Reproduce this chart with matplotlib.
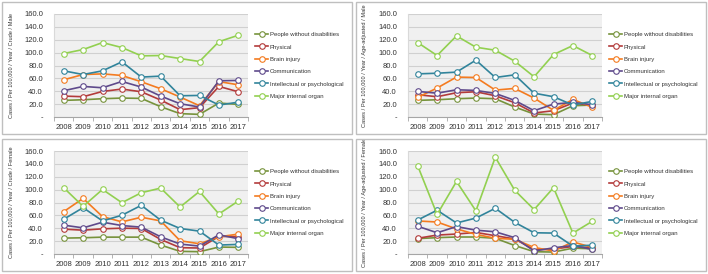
import numpy as np
import matplotlib
matplotlib.use("Agg")
import matplotlib.pyplot as plt
from matplotlib.patches import Rectangle

plt.rcParams['font.family'] = ['Liberation Sans', 'DejaVu Sans']

years = [2008, 2009, 2010, 2011, 2012, 2013, 2014, 2015, 2016, 2017]
series_names = ["People without disabilities", "Physical", "Brain injury",
                "Communication", "Intellectual or psychological", "Major internal organ"]
colors = ["#77933C", "#B33B3B", "#F47B20", "#5F4A8B", "#31849B", "#92D050"]

titles = ["Cases / Per 100,000 / Year / Crude / Male",
          "Cases / Per 100,000 / Year / Age-adjusted / Male",
          "Cases / Per 100,000 / Year / Crude / Female",
          "Cases / Per 100,000 / Year / Age-adjusted / Female"]

# crude, male
crude_male = [
    [25.8, 26.8, 28.4, 29.4, 28.9, 16.0, 5.2, 4.1, 21.7, 19.6],
    [32.5, 31.5, 39.7, 43.4, 39.2, 26.3, 11.4, 14.5, 47.5, 39.2],
    [57.8, 66.0, 67.0, 64.5, 54.7, 43.9, 31.0, 17.5, 55.0, 50.0],
    [40.8, 47.5, 45.4, 55.2, 46.5, 32.5, 20.6, 15.5, 56.3, 56.8],
    [71.7, 66.0, 71.7, 85.7, 62.0, 63.5, 33.0, 33.5, 18.6, 23.0],
    [98.6, 104.8, 115.6, 107.9, 95.0, 95.5, 90.8, 86.2, 117.0, 127.0],
]
# age-adjusted, male
adj_male = [
    [25.8, 26.8, 28.4, 29.4, 28.4, 15.5, 4.6, 3.6, 17.5, 18.6],
    [34.6, 31.5, 37.7, 39.2, 33.0, 22.2, 6.2, 9.8, 21.7, 18.1],
    [30.5, 45.0, 62.0, 61.4, 41.8, 44.4, 29.4, 10.3, 27.4, 15.0],
    [39.7, 37.0, 42.3, 41.3, 36.6, 25.8, 9.8, 20.0, 22.7, 19.1],
    [67.0, 68.0, 69.7, 88.3, 61.4, 65.5, 37.0, 31.5, 18.6, 24.3],
    [115.6, 95.5, 126.0, 108.4, 103.7, 86.7, 62.5, 97.0, 111.0, 95.5],
]
# crude, female
crude_female = [
    [24.7, 25.2, 26.2, 26.2, 26.2, 13.9, 4.1, 3.6, 10.8, 10.3],
    [38.6, 37.0, 39.1, 40.1, 39.6, 22.6, 9.8, 9.3, 27.3, 27.0],
    [65.8, 86.4, 58.1, 49.9, 57.1, 51.4, 20.6, 15.9, 26.7, 30.9],
    [44.8, 40.6, 49.4, 44.2, 41.7, 26.7, 15.4, 12.3, 29.8, 23.7],
    [54.0, 72.0, 51.4, 60.2, 75.6, 52.5, 39.6, 35.5, 13.9, 14.9],
    [102.9, 74.0, 100.3, 79.7, 95.2, 102.4, 73.0, 97.2, 62.2, 82.3],
]
# age-adjusted, female
adj_female = [
    [23.9, 25.4, 26.4, 26.4, 24.4, 13.2, 3.6, 3.0, 9.1, 8.1],
    [24.4, 29.4, 31.0, 33.5, 28.4, 23.4, 6.6, 7.6, 11.7, 9.6],
    [51.3, 49.7, 39.0, 30.5, 24.4, 22.8, 10.2, 4.6, 18.8, 10.2],
    [43.1, 33.0, 42.6, 37.0, 34.5, 25.4, 4.6, 9.6, 13.2, 7.1],
    [52.8, 68.0, 48.2, 55.8, 71.0, 49.2, 33.0, 32.5, 12.2, 13.7],
    [137.0, 61.4, 112.7, 67.0, 150.3, 99.0, 69.0, 103.0, 32.5, 50.8],
]

panels = [crude_male, adj_male, crude_female, adj_female]

W, H = 708, 274
fig = plt.figure(figsize=(W / 100, H / 100), dpi=100)

x = np.arange(len(years))
for i, data in enumerate(panels):
    c, r = i % 2, i // 2
    # panel frame
    fig.patches.append(Rectangle(((2 + 354 * c) / W, 1 - (134 + 137 * r) / H),
                                 350 / W, 132 / H, transform=fig.transFigure,
                                 fill=False, edgecolor="#BFBFBF", linewidth=1.0))
    left, right = 54 + 354 * c, 248 + 354 * c
    top, bottom = 14 + 137 * r, 117 + 137 * r
    ax = fig.add_axes([left / W, 1 - bottom / H, (right - left) / W, (bottom - top) / H])
    ax.set_facecolor("#F0F0F0")
    for k, vals in enumerate(data):
        ax.plot(x, vals, color=colors[k], lw=1.2, marker="o", ms=4,
                mfc="white", mec=colors[k], mew=0.8, label=series_names[k], zorder=3)
    ax.set_xlim(-0.5, len(years) - 0.5)
    ax.set_ylim(0, 160)
    ax.set_yticks(np.arange(0, 161, 20))
    ax.set_yticklabels(["-"] + ["%.1f" % v for v in range(20, 161, 20)])
    ax.set_xticks(x)
    ax.set_xticklabels([str(y) for y in years])
    ax.set_xticks(np.arange(-0.5, len(years), 1), minor=True)
    ax.tick_params(axis="x", which="major", length=0, labelsize=5.5, pad=5, colors="#333333")
    ax.tick_params(axis="x", which="minor", length=3, color="#A6A6A6")
    ax.tick_params(axis="y", length=0, labelsize=5.5, pad=8, colors="#333333")
    ax.grid(axis="y", color="#D0D0D0", lw=0.8, zorder=0)
    ax.set_axisbelow(True)
    for s in ["top", "right"]:
        ax.spines[s].set_visible(False)
    ax.spines["left"].set_color("#D9D9D9")
    ax.spines["bottom"].set_color("#A6A6A6")
    ax.spines["left"].set_linewidth(0.8)
    ax.spines["bottom"].set_linewidth(0.8)
    ax.set_ylabel(titles[i], fontsize=4.1, color="#333333")
    ax.yaxis.set_label_coords(-(left - 13 - 354 * c) / (right - left), 0.5)
    ax.legend(loc="upper left", bbox_to_anchor=((255 + 354 * c) / W, 1 - (32 + 137 * r) / H),
              bbox_transform=fig.transFigure, frameon=False, fontsize=4.3,
              handlelength=2.2, handletextpad=0.3, labelspacing=1.2,
              borderaxespad=0, borderpad=0, labelcolor="#333333")

fig.savefig("out.png", dpi=100)
